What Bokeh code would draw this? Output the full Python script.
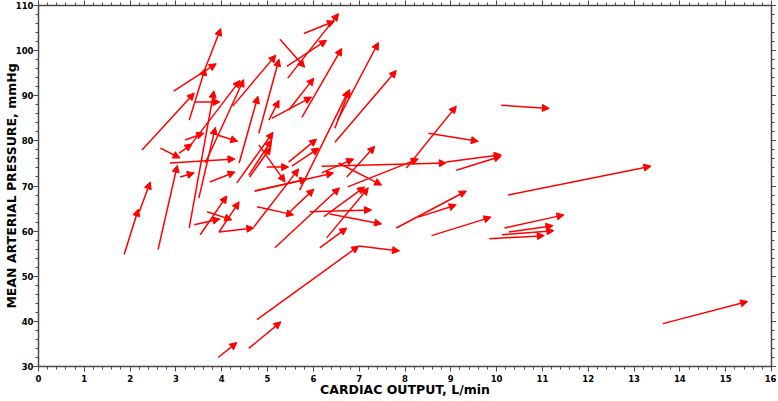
from bokeh.plotting import figure
from bokeh.models import (Arrow, NormalHead, ColumnDataSource, Range1d, LinearAxis,
                          SingleIntervalTicker, CustomJSTickFormatter)
from bokeh.embed import file_html
from bokeh.resources import INLINE

# Each arrow: cardiac output / mean arterial pressure, start -> end
co_start = [1.87, 2.20, 2.61, 2.26, 2.95, 3.29, 3.64, 3.42, 3.29, 3.50,
            3.24, 3.64, 4.24, 4.81, 5.79, 5.44, 5.42, 5.27, 5.75, 5.46,
            5.09, 5.03, 5.70, 6.53, 6.47, 6.47, 8.03, 10.10, 2.66, 3.07,
            3.20, 2.87, 3.09, 3.74, 3.90, 4.38, 4.33, 4.59, 4.61, 4.81,
            4.98, 5.46, 5.53, 4.72, 4.72, 4.70, 5.46, 5.16, 4.77, 3.94,
            3.94, 3.53, 3.40, 3.68, 6.18, 6.75, 8.90, 9.12, 8.51, 6.18,
            6.73, 6.55, 6.23, 6.29, 5.92, 6.36, 6.14, 4.77, 6.99, 7.81,
            8.29, 8.58, 10.25, 10.17, 10.27, 10.12, 9.84, 13.63, 3.92, 4.59]
map_start = [54.8, 64.3, 55.9, 78.0, 91.0, 84.6, 96.1, 88.6, 60.7, 67.3,
             78.0, 75.1, 87.7, 81.7, 103.8, 93.9, 96.5, 102.5, 85.2, 86.8,
             85.0, 84.6, 69.1, 84.6, 82.8, 79.7, 74.0, 87.9, 78.4, 77.3,
             80.2, 75.1, 72.0, 70.9, 81.3, 75.1, 70.7, 72.4, 72.0, 79.1,
             74.2, 75.3, 74.4, 68.9, 68.9, 60.9, 64.0, 56.3, 65.4, 59.8,
             59.8, 59.2, 61.4, 64.3, 74.4, 69.8, 75.3, 73.5, 81.7, 72.9,
             72.0, 75.1, 63.2, 58.5, 64.3, 63.8, 56.3, 40.4, 56.7, 60.7,
             63.1, 59.0, 68.0, 60.7, 59.8, 59.2, 58.3, 39.5, 32.0, 34.0]
co_end = [2.18, 2.44, 3.03, 3.40, 3.88, 3.64, 3.98, 3.96, 3.83, 3.86,
          4.40, 4.48, 5.18, 5.25, 6.46, 6.55, 6.29, 5.81, 6.62, 6.01,
          5.96, 5.25, 6.77, 7.42, 6.79, 7.81, 9.12, 11.15, 3.09, 3.35,
          3.61, 4.29, 3.40, 4.29, 4.35, 4.79, 5.12, 5.09, 5.07, 5.38,
          5.46, 6.07, 6.12, 6.44, 5.86, 5.68, 6.01, 6.57, 5.57, 4.70,
          4.38, 4.11, 3.96, 4.22, 8.90, 8.29, 10.10, 10.10, 9.60, 6.88,
          7.34, 7.49, 7.12, 7.20, 7.27, 7.49, 6.73, 6.99, 7.88, 9.34,
          9.12, 9.88, 13.37, 11.47, 11.23, 11.25, 11.04, 15.48, 4.33, 5.29]
map_end = [64.9, 70.9, 74.6, 90.6, 97.1, 96.1, 104.9, 88.6, 91.1, 83.0,
           93.4, 93.6, 99.0, 98.1, 106.5, 108.2, 102.3, 96.3, 100.5, 93.9,
           89.7, 89.0, 91.2, 101.8, 91.4, 95.6, 87.7, 87.2, 76.2, 79.3,
           81.7, 76.0, 72.9, 73.1, 79.9, 89.9, 81.9, 80.2, 78.6, 70.9,
           74.2, 80.4, 78.4, 72.9, 71.5, 73.8, 69.3, 69.6, 63.6, 60.7,
           66.5, 67.8, 62.7, 62.5, 75.1, 76.0, 76.9, 76.6, 79.9, 76.0,
           78.8, 70.2, 69.8, 69.6, 64.7, 61.6, 60.7, 56.7, 55.6, 68.9,
           65.8, 63.1, 74.4, 63.6, 61.2, 60.1, 59.0, 44.4, 35.3, 39.9]

x_label = "CARDIAC OUTPUT, L/min"
y_label = "MEAN ARTERIAL PRESSURE, mmHg"

FONT = "DejaVu Sans"
AXIS_COLOR = "#4a4a4a"
RED = "#ff0000"

p = figure(width=776, height=399, x_range=Range1d(0, 16), y_range=Range1d(30, 110),
           output_backend="svg", toolbar_location=None,
           min_border_left=0, min_border_right=0, min_border_top=0, min_border_bottom=0)
p.grid.visible = False
p.outline_line_color = None
p.background_fill_color = "white"


def style_axis(ax, ticker):
    ax.ticker = ticker
    ax.axis_line_color = AXIS_COLOR
    ax.axis_line_width = 1.5
    ax.major_tick_line_color = AXIS_COLOR
    ax.minor_tick_line_color = AXIS_COLOR
    ax.major_tick_in = 0
    ax.major_tick_out = 5
    ax.minor_tick_in = 0
    ax.minor_tick_out = 3
    ax.major_label_text_font = FONT
    ax.major_label_text_font_style = "bold"
    ax.major_label_text_font_size = "8.5px"
    ax.major_label_text_color = "black"
    ax.axis_label_text_font = FONT
    ax.axis_label_text_font_style = "bold"
    ax.axis_label_text_font_size = "12.5px"
    ax.axis_label_text_color = "black"


style_axis(p.xaxis[0], SingleIntervalTicker(interval=1, num_minor_ticks=5))
style_axis(p.yaxis[0], SingleIntervalTicker(interval=10, num_minor_ticks=5))
p.xaxis[0].axis_label = x_label
p.yaxis[0].axis_label = y_label
p.xaxis[0].major_label_standoff = 3
p.yaxis[0].major_label_standoff = 0
p.xaxis[0].axis_label_standoff = -3
p.yaxis[0].axis_label_standoff = -6

blank = CustomJSTickFormatter(code="return ''")
top = LinearAxis(formatter=blank)
right = LinearAxis(formatter=blank)
style_axis(top, SingleIntervalTicker(interval=1, num_minor_ticks=5))
style_axis(right, SingleIntervalTicker(interval=10, num_minor_ticks=5))
top.major_label_standoff = 0
right.major_label_standoff = 0
top.major_label_text_font_size = "1px"
right.major_label_text_font_size = "1px"
p.add_layout(top, "above")
p.add_layout(right, "right")

src = ColumnDataSource(dict(x0=co_start, y0=map_start, x1=co_end, y1=map_end))
p.add_layout(Arrow(source=src, x_start="x0", y_start="y0", x_end="x1", y_end="y1",
                   line_color=RED, line_width=1.5,
                   end=NormalHead(size=7, fill_color=RED, line_color=RED, line_width=1)))

open("out.html", "w").write(file_html(p, INLINE))
